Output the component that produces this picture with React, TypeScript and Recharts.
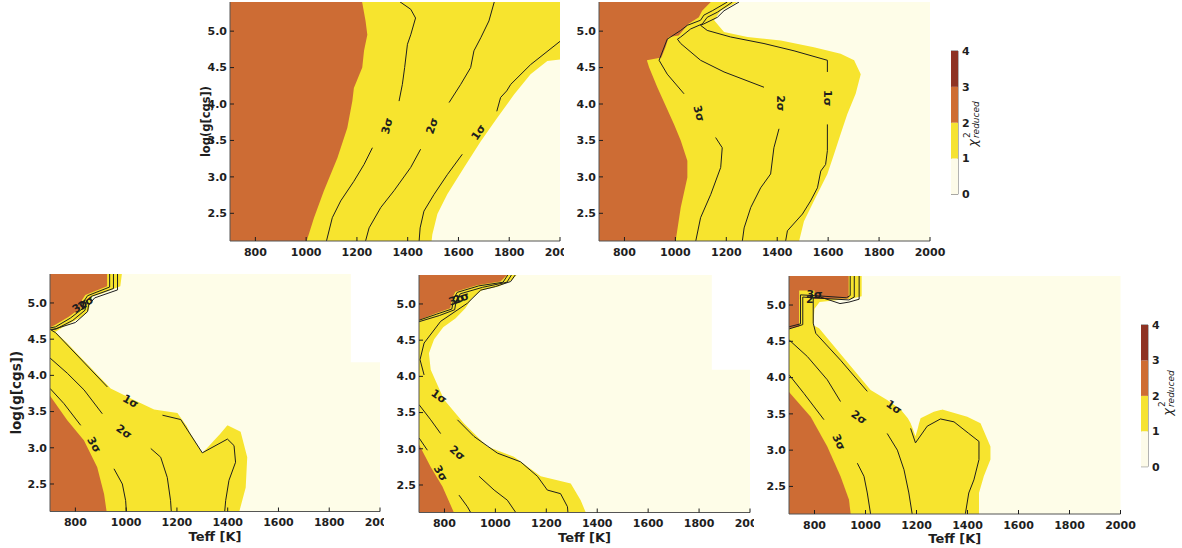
import React from "react";
import {
  ComposedChart,
  Area,
  Line,
  XAxis,
  YAxis,
  ReferenceDot,
  ReferenceArea,
  BarChart,
  Bar,
} from "recharts";

// [logg, teffLow, teffHigh] rows for filled regions, [teff, logg] for contour lines
type Band = [number, number, number];
type Pt = [number, number];
type Tag = [number, number, string, number];

const teffTicks = [800, 1000, 1200, 1400, 1600, 1800, 2000];
const loggTicks = [2.5, 3.0, 3.5, 4.0, 4.5, 5.0];
const chiTicks = [0, 1, 2, 3, 4];
const chiSteps = [1, 1, 1, 1];

const fullGrid: Band[] = [[5.45, 650, 2050], [2.05, 650, 2050]];

// ---- top left
const aYellow: Band[] = [[5.45, 700, 2050], [4.63, 700, 2050], [4.59, 700, 1950], [4.41, 700, 1884], [4.13, 700, 1819], [3.81, 700, 1753], [3.49, 700, 1688], [3.13, 700, 1622], [2.76, 700, 1556], [2.49, 700, 1517], [2.21, 700, 1497], [2.05, 700, 1492]];
const aOrange: Band[] = [[5.45, 700, 1216], [5.39, 700, 1221], [5.14, 700, 1234], [4.95, 700, 1241], [4.73, 700, 1228], [4.5, 700, 1221], [4.22, 700, 1188], [4.04, 700, 1182], [3.67, 700, 1162], [3.26, 700, 1123], [2.81, 700, 1070], [2.44, 700, 1031], [2.12, 700, 1002], [2.05, 700, 995]];
const aSig3Top: Pt[] = [[1350, 5.45], [1412, 5.3], [1431, 5.18], [1412, 4.95], [1399, 4.82], [1388, 4.5], [1379, 4.27], [1366, 4.04]];
const aSig3Low: Pt[] = [[1261, 3.4], [1228, 3.17], [1188, 2.94], [1136, 2.67], [1103, 2.44], [1080, 2.12], [1078, 2.05]];
const aSig2Top: Pt[] = [[1745, 5.45], [1720, 5.14], [1688, 4.91], [1661, 4.73], [1648, 4.5], [1609, 4.27], [1563, 4.02]];
const aSig2Low: Pt[] = [[1451, 3.38], [1412, 3.13], [1346, 2.81], [1294, 2.58], [1248, 2.3], [1234, 2.12], [1232, 2.05]];
const aSig1Top: Pt[] = [[2030, 4.9], [2000, 4.86], [1884, 4.54], [1806, 4.27], [1790, 4.18], [1766, 4.09], [1751, 3.9]];
const aSig1Low: Pt[] = [[1615, 3.31], [1556, 3.03], [1504, 2.76], [1464, 2.53], [1449, 2.3], [1445, 2.12], [1445, 2.05]];
const aTags: Tag[] = [[1319, 3.7, "3σ", -75], [1497, 3.7, "2σ", -72], [1679, 3.61, "1σ", -55]];

// ---- top right
const bYellow: Band[] = [[5.45, 700, 1250], [5.4, 700, 1243], [5.28, 700, 1178], [5.15, 700, 1152], [4.99, 700, 1191], [4.92, 700, 1283], [4.87, 700, 1414], [4.78, 700, 1544], [4.69, 700, 1649], [4.6, 700, 1702], [4.41, 700, 1728], [4.14, 700, 1708], [3.86, 700, 1675], [3.59, 700, 1649], [3.31, 700, 1623], [3.04, 700, 1597], [2.67, 700, 1544], [2.39, 700, 1505], [2.12, 700, 1486], [2.05, 700, 1485]];
const bOrange: Band[] = [[5.45, 700, 1150], [5.4, 700, 1139], [5.28, 700, 1105], [5.19, 700, 1092], [5.1, 700, 1052], [4.94, 700, 1013], [4.92, 700, 974], [4.78, 700, 961], [4.64, 700, 945], [4.6, 700, 888], [4.5, 700, 897], [4.23, 700, 929], [3.72, 700, 995], [3.5, 700, 1021], [3.22, 700, 1047], [2.99, 700, 1047], [2.58, 700, 1021], [2.12, 700, 1001], [2.05, 700, 999]];
const bSig3Top: Pt[] = [[1212, 5.45], [1204, 5.4], [1145, 5.28], [1112, 5.22], [1099, 5.15], [1047, 5.08], [1021, 5.01], [968, 4.89], [936, 4.6], [968, 4.41], [1034, 4.14]];
const bSig3Low: Pt[] = [[1158, 3.54], [1184, 3.4], [1178, 3.13], [1139, 2.76], [1099, 2.44], [1080, 2.12], [1078, 2.05]];
const bSig2Top: Pt[] = [[1232, 5.45], [1224, 5.4], [1165, 5.26], [1125, 5.19], [1106, 5.1], [1060, 5.03], [1021, 4.92], [1008, 4.89], [1021, 4.83], [1099, 4.6], [1191, 4.44], [1348, 4.23]];
const bSig2Low: Pt[] = [[1407, 3.66], [1387, 3.4], [1374, 3.04], [1335, 2.85], [1296, 2.58], [1270, 2.3], [1263, 2.12], [1262, 2.05]];
const bSig1Top: Pt[] = [[1258, 5.45], [1250, 5.4], [1191, 5.28], [1165, 5.19], [1112, 5.1], [1099, 5.08], [1125, 5.01], [1217, 4.92], [1348, 4.83], [1466, 4.73], [1597, 4.6], [1597, 4.44]];
const bSig1Low: Pt[] = [[1597, 3.72], [1597, 3.36], [1590, 3.17], [1571, 3.08], [1558, 2.85], [1531, 2.67], [1499, 2.49], [1440, 2.26], [1433, 2.12], [1432, 2.05]];
const bTags: Tag[] = [[1092, 3.87, "3σ", 75], [1413, 4.01, "2σ", 90], [1596, 4.08, "1σ", 90]];

// ---- bottom left
const cWhite: Band[] = [[5.45, 1885, 2050], [4.18, 1885, 2050]];
const cYellow: Band[] = [[5.45, 700, 985], [5.23, 700, 977], [5.13, 700, 905], [5.09, 700, 866], [4.9, 700, 852], [4.81, 700, 826], [4.69, 700, 761], [4.6, 700, 721], [4.45, 700, 766], [4.2, 700, 835], [3.82, 700, 939], [3.66, 700, 1031], [3.53, 700, 1110], [3.48, 700, 1202], [3.31, 700, 1236], [3.31, 700, 1399], [3.22, 700, 1451], [2.87, 700, 1477], [2.45, 700, 1471], [2.11, 700, 1445], [2.05, 700, 1443]];
const cOrangeTop: Band[] = [[5.45, 700, 925], [5.23, 700, 925], [5.11, 700, 839], [5.04, 700, 826], [4.93, 700, 820], [4.81, 700, 774], [4.7, 700, 721], [4.66, 700, 700]];
const cOrangeLow: Band[] = [[3.72, 700, 700], [3.38, 700, 768], [3.1, 700, 834], [2.73, 700, 886], [2.36, 700, 913], [2.12, 700, 923], [2.05, 700, 925]];
const cNotch: Band[] = [[3.34, 1234, 1399], [3.31, 1237, 1399], [3.19, 1254, 1370], [3.1, 1270, 1346], [3.0, 1287, 1320], [2.93, 1300, 1300]];
const cSig3Top: Pt[] = [[935, 5.45], [935, 5.22], [848, 5.1], [833, 5.02], [828, 4.92], [780, 4.79], [722, 4.67], [700, 4.655]];
const cSig2Top: Pt[] = [[950, 5.45], [950, 5.2], [862, 5.09], [842, 5.01], [838, 4.9], [790, 4.76], [724, 4.64], [700, 4.635]];
const cSig1Top: Pt[] = [[966, 5.45], [966, 5.18], [876, 5.07], [852, 4.97], [848, 4.88], [800, 4.73], [705, 4.625], [722, 4.59], [926, 3.84]];
const cSig1Low: Pt[] = [[1143, 3.45], [1215, 3.39], [1300, 2.93], [1399, 3.12], [1425, 3.03], [1431, 2.8], [1405, 2.55], [1392, 2.27], [1388, 2.11], [1388, 2.05]];
const cSig2a: Pt[] = [[700, 4.24], [768, 4.03], [834, 3.8], [906, 3.47]];
const cSig2b: Pt[] = [[1097, 2.99], [1136, 2.87], [1162, 2.59], [1175, 2.27], [1178, 2.11], [1178, 2.05]];
const cSig3a: Pt[] = [[700, 3.82], [755, 3.61], [821, 3.31]];
const cSig3b: Pt[] = [[952, 2.71], [985, 2.5], [998, 2.27], [1001, 2.11], [1001, 2.05]];
const cTags: Tag[] = [[1017, 3.64, "1σ", 30], [991, 3.22, "2σ", 35], [873, 3.04, "3σ", 60], [819, 4.96, "3σ", -35], [842, 5.0, "2σ", -35]];

// ---- bottom middle
const dWhite: Band[] = [[5.45, 1850, 2050], [4.09, 1850, 2050]];
const dYellow: Band[] = [[5.45, 700, 1100], [5.41, 700, 1086], [5.33, 700, 1065], [5.24, 700, 1013], [5.19, 700, 947], [5.08, 700, 908], [4.94, 700, 882], [4.8, 700, 843], [4.68, 700, 795], [4.51, 700, 759], [4.32, 700, 739], [4.09, 700, 746], [3.68, 700, 798], [3.35, 700, 877], [3.03, 700, 968], [2.89, 700, 1073], [2.62, 700, 1178], [2.52, 700, 1296], [2.29, 700, 1335], [2.12, 700, 1355], [2.05, 700, 1358]];
const dOrangeTop: Band[] = [[5.45, 700, 1060], [5.42, 700, 1052], [5.31, 700, 1020], [5.26, 700, 928], [5.17, 700, 843], [5.08, 700, 830], [4.94, 700, 823], [4.87, 700, 764], [4.78, 700, 700]];
const dOrangeLow: Band[] = [[3.06, 700, 700], [2.75, 700, 746], [2.48, 700, 792], [2.12, 700, 837], [2.05, 700, 842]];
const dSig3Top: Pt[] = [[1058, 5.45], [1030, 5.3], [935, 5.25], [850, 5.16], [836, 5.07], [829, 4.93], [770, 4.86], [700, 4.775]];
const dSig2Top: Pt[] = [[1072, 5.45], [1045, 5.3], [950, 5.23], [862, 5.14], [846, 5.04], [840, 4.92], [780, 4.84], [700, 4.755]];
const dSig1Top: Pt[] = [[1088, 5.45], [1060, 5.31], [1000, 5.24], [942, 5.19], [890, 5.01], [785, 4.76], [720, 4.46], [704, 4.23], [720, 4.02]];
const dSig1Low: Pt[] = [[851, 3.4], [916, 3.17], [1008, 2.94], [1099, 2.82], [1165, 2.62], [1204, 2.43], [1256, 2.38], [1283, 2.2], [1285, 2.12], [1285, 2.05]];
const dSig2a: Pt[] = [[700, 3.61], [746, 3.4], [785, 3.21]];
const dSig2b: Pt[] = [[936, 2.62], [995, 2.43], [1047, 2.29], [1080, 2.12], [1082, 2.05]];
const dSig3a: Pt[] = [[700, 3.15], [733, 2.98]];
const dSig3b: Pt[] = [[857, 2.36], [890, 2.2], [903, 2.12], [905, 2.05]];
const dTags: Tag[] = [[778, 3.72, "1σ", 35], [850, 2.94, "2σ", 40], [784, 2.66, "3σ", 60], [848, 5.06, "3σ", -20], [866, 5.08, "2σ", -20]];

// ---- bottom right
const eYellow: Band[] = [[5.45, 700, 985], [5.12, 700, 985], [5.09, 700, 950], [5.04, 700, 820], [4.95, 700, 800], [4.72, 700, 795], [4.68, 700, 818], [4.38, 700, 889], [3.83, 700, 1020], [3.69, 700, 1085], [3.56, 700, 1138], [3.56, 700, 1301], [3.46, 700, 1399], [3.37, 700, 1451], [3.05, 700, 1490], [2.87, 700, 1490], [2.64, 700, 1464], [2.41, 700, 1445], [2.12, 700, 1445], [2.05, 700, 1445]];
const eOrangeTop: Band[] = [[5.45, 700, 934], [5.09, 700, 934], [5.08, 700, 740], [4.7, 700, 740], [4.68, 700, 700]];
const eTongue: Band[] = [[5.2, 740, 800], [4.72, 740, 795]];
const eOrangeLow: Band[] = [[3.8, 700, 700], [3.46, 700, 785], [3.05, 700, 850], [2.64, 700, 902], [2.32, 700, 935], [2.12, 700, 942], [2.05, 700, 944]];
const eNotch: Band[] = [[3.59, 1132, 1301], [3.56, 1139, 1301], [3.53, 1145, 1268], [3.44, 1166, 1216], [3.37, 1177, 1210], [3.3, 1185, 1205], [3.19, 1196, 1196]];
const eSig3Top: Pt[] = [[940, 5.45], [940, 5.13], [925, 5.1], [800, 5.13], [745, 5.14], [745, 4.74], [700, 4.7]];
const eSig2Top: Pt[] = [[956, 5.45], [956, 5.11], [935, 5.07], [790, 5.1], [754, 5.11], [754, 4.73], [700, 4.67]];
const eSig1Top: Pt[] = [[975, 5.45], [975, 5.08], [935, 5.04], [900, 5.02], [823, 5.11], [795, 5.1], [795, 4.75], [805, 4.61], [902, 4.24], [1007, 3.81]];
const eSig1Low: Pt[] = [[1177, 3.3], [1196, 3.1], [1242, 3.33], [1294, 3.43], [1347, 3.39], [1405, 3.23], [1445, 3.12], [1445, 2.87], [1425, 2.59], [1405, 2.41], [1392, 2.13], [1391, 2.05]];
const eSig2a: Pt[] = [[700, 4.52], [772, 4.29], [850, 3.97], [902, 3.67]];
const eSig2b: Pt[] = [[1085, 3.23], [1125, 3.0], [1151, 2.73], [1170, 2.41], [1183, 2.12], [1184, 2.05]];
const eSig3a: Pt[] = [[700, 4.04], [759, 3.78], [837, 3.42]];
const eSig3b: Pt[] = [[968, 2.82], [994, 2.64], [1007, 2.41], [1020, 2.12], [1021, 2.05]];
const eTags: Tag[] = [[1111, 3.59, "1σ", 35], [974, 3.45, "2σ", 35], [895, 3.11, "3σ", 65], [800, 5.15, "3σ", 0], [782, 5.08, "2", 0]];

const CREAM = "#fefde8";
const YELLOW = "#f7e42e";
const ORANGE = "#cd6c34";
const WHITE = "#ffffff";
const INK = "#1e1e1e";
const FRAME = "#555555";
const chiColors = ["#fdfbe9", "#f6e332", "#ce6d33", "#8e3324"];

const T_DOMAIN: [number, number] = [700, 2000];
const G_DOMAIN: [number, number] = [2.12, 5.4];
const PAD = 4;
const X_AXIS_H = 40;

interface Layer {
  rows: Band[];
  fill: string;
}

interface PanelProps {
  x: number;
  y: number;
  w: number;
  h: number;
  padR: number;
  yw: number;
  layers: Layer[];
  lines: Pt[][];
  tags: Tag[];
  yTitle?: number;
  xTitle?: boolean;
}

const tickFont = { fontSize: 11, fontWeight: 700, fill: INK };

function Panel({ x, y, w, h, padR, yw, layers, lines, tags, yTitle, xTitle }: PanelProps) {
  const cw = PAD + yw + w + padR;
  const ch = PAD + h + X_AXIS_H + PAD;
  return (
    <div style={{ position: "absolute", left: x - PAD - yw, top: y - PAD }}>
      <ComposedChart
        layout="vertical"
        width={cw}
        height={ch}
        margin={{ top: PAD, right: padR, bottom: PAD, left: PAD }}
      >
        {[{ rows: fullGrid, fill: CREAM }, ...layers].map((l, i) => (
          <Area
            key={`a${i}`}
            data={l.rows.map(([g, lo, hi]) => ({ g, band: [lo, hi] }))}
            dataKey="band"
            type="linear"
            fill={l.fill}
            fillOpacity={1}
            stroke="none"
            dot={false}
            activeDot={false}
            isAnimationActive={false}
          />
        ))}
        {lines.map((pts, i) => (
          <Line
            key={`l${i}`}
            data={pts.map(([t, g]) => ({ t, g }))}
            dataKey="t"
            type="linear"
            stroke={INK}
            strokeWidth={1}
            dot={false}
            activeDot={false}
            isAnimationActive={false}
          />
        ))}
        {tags.map(([t, g, text, angle], i) => (
          <ReferenceDot
            key={`t${i}`}
            x={t}
            y={g}
            r={1}
            shape={(p: any) => (
              <text
                x={p.cx}
                y={p.cy}
                transform={`rotate(${angle} ${p.cx} ${p.cy})`}
                textAnchor="middle"
                dominantBaseline="central"
                fontSize={11}
                fontWeight={700}
                fill={INK}
              >
                {text}
              </text>
            )}
          />
        ))}
        <XAxis
          type="number"
          domain={T_DOMAIN}
          ticks={teffTicks}
          interval={0}
          allowDataOverflow
          height={X_AXIS_H}
          tickSize={-4}
          tickMargin={11}
          tick={tickFont}
          stroke={FRAME}
          tickLine={{ stroke: INK }}
          label={
            xTitle
              ? { value: "Teff [K]", position: "insideBottom", offset: 11, fontSize: 13, fontWeight: 700, fill: INK }
              : undefined
          }
        />
        <XAxis
          xAxisId="top"
          orientation="top"
          type="number"
          domain={T_DOMAIN}
          ticks={teffTicks}
          interval={0}
          allowDataOverflow
          height={0}
          tickSize={-4}
          tickFormatter={() => ""}
          stroke={FRAME}
          tickLine={{ stroke: INK }}
        />
        <YAxis
          type="number"
          dataKey="g"
          domain={G_DOMAIN}
          ticks={loggTicks}
          interval={0}
          reversed
          allowDataOverflow
          width={yw}
          tickSize={-4}
          tickMargin={7}
          tick={tickFont}
          tickFormatter={(v: number) => v.toFixed(1)}
          stroke={FRAME}
          tickLine={{ stroke: INK }}
          label={
            yTitle
              ? { value: "log(g[cgs])", angle: -90, position: "center", fontSize: yTitle, fontWeight: 700, fill: INK }
              : undefined
          }
        />
        <YAxis
          yAxisId="right"
          orientation="right"
          type="number"
          domain={G_DOMAIN}
          ticks={loggTicks}
          interval={0}
          reversed
          allowDataOverflow
          width={0}
          tickSize={-4}
          tickFormatter={() => ""}
          stroke={FRAME}
          tickLine={{ stroke: INK }}
        />
      </ComposedChart>
    </div>
  );
}

function ColorBar({ x, y, h }: { x: number; y: number; h: number }) {
  const row: Record<string, string | number> = { k: "chi" };
  chiSteps.forEach((v, i) => {
    row[`s${i}`] = v;
  });
  return (
    <div style={{ position: "absolute", left: x, top: y - 6 }}>
      <BarChart
        width={7 + 24}
        height={h + 12}
        data={[row]}
        margin={{ top: 6, right: 0, bottom: 6, left: 0 }}
        barCategoryGap={0}
      >
        <XAxis dataKey="k" hide />
        <YAxis
          orientation="right"
          type="number"
          width={24}
          domain={[0, 4]}
          ticks={chiTicks}
          interval={0}
          axisLine={false}
          tickLine={false}
          tickSize={0}
          tickMargin={4}
          tick={tickFont}
        />
        {chiSteps.map((_, i) => (
          <Bar key={i} dataKey={`s${i}`} stackId="cb" fill={chiColors[i]} isAnimationActive={false} />
        ))}
        <ReferenceArea y1={0} y2={4} fill="none" stroke="#666" strokeWidth={1} />
      </BarChart>
    </div>
  );
}

function ChiLabel({ x, y }: { x: number; y: number }) {
  return (
    <div
      style={{
        position: "absolute",
        left: x,
        top: y,
        transform: "translate(-50%, -50%) rotate(-90deg)",
        whiteSpace: "nowrap",
        fontStyle: "italic",
        color: INK,
        lineHeight: 1,
      }}
    >
      <span style={{ fontSize: 13 }}>χ</span>
      <span
        style={{
          display: "inline-flex",
          flexDirection: "column",
          verticalAlign: "middle",
          fontSize: 9,
          marginLeft: 1,
        }}
      >
        <span style={{ fontStyle: "normal" }}>2</span>
        <span>reduced</span>
      </span>
    </div>
  );
}

export default function App() {
  return (
    <div
      style={{
        position: "absolute",
        left: 0,
        top: 0,
        width: 1182,
        height: 548,
        background: "#fff",
        overflow: "hidden",
        fontFamily: "'DejaVu Sans', sans-serif",
      }}
    >
      <Panel
        x={229.5} y={1.5} w={330} h={239} padR={4.5} yw={49} yTitle={11.5}
        layers={[{ rows: aYellow, fill: YELLOW }, { rows: aOrange, fill: ORANGE }]}
        lines={[aSig3Top, aSig3Low, aSig2Top, aSig2Low, aSig1Top, aSig1Low]}
        tags={aTags}
      />
      <Panel
        x={598.5} y={1.5} w={331} h={239} padR={16} yw={52}
        layers={[{ rows: bYellow, fill: YELLOW }, { rows: bOrange, fill: ORANGE }]}
        lines={[bSig3Top, bSig3Low, bSig2Top, bSig2Low, bSig1Top, bSig1Low]}
        tags={bTags}
      />
      <Panel
        x={49.5} y={274} w={330} h={237.5} padR={4} yw={67} yTitle={13.5} xTitle
        layers={[
          { rows: cWhite, fill: WHITE },
          { rows: cYellow, fill: YELLOW },
          { rows: cOrangeTop, fill: ORANGE },
          { rows: cOrangeLow, fill: ORANGE },
          { rows: cNotch, fill: CREAM },
        ]}
        lines={[cSig3Top, cSig2Top, cSig1Top, cSig1Low, cSig2a, cSig2b, cSig3a, cSig3b]}
        tags={cTags}
      />
      <Panel
        x={418.5} y={275} w={331} h={237.5} padR={4.5} yw={52} xTitle
        layers={[
          { rows: dWhite, fill: WHITE },
          { rows: dYellow, fill: YELLOW },
          { rows: dOrangeTop, fill: ORANGE },
          { rows: dOrangeLow, fill: ORANGE },
        ]}
        lines={[dSig3Top, dSig2Top, dSig1Top, dSig1Low, dSig2a, dSig2b, dSig3a, dSig3b]}
        tags={dTags}
      />
      <Panel
        x={788.5} y={275.5} w={331.5} h={238} padR={16} yw={52} xTitle
        layers={[
          { rows: eYellow, fill: YELLOW },
          { rows: eOrangeTop, fill: ORANGE },
          { rows: eTongue, fill: YELLOW },
          { rows: eOrangeLow, fill: ORANGE },
          { rows: eNotch, fill: CREAM },
        ]}
        lines={[eSig3Top, eSig2Top, eSig1Top, eSig1Low, eSig2a, eSig2b, eSig3a, eSig3b]}
        tags={eTags}
      />
      <ColorBar x={950.5} y={51} h={143.3} />
      <ChiLabel x={972} y={124} />
      <ColorBar x={1140.5} y={325} h={141.7} />
      <ChiLabel x={1167} y={393} />
    </div>
  );
}
